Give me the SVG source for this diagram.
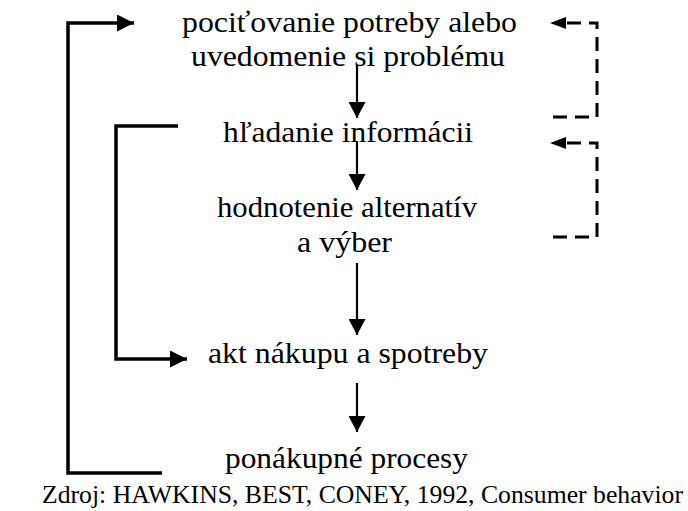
<svg xmlns="http://www.w3.org/2000/svg" width="688" height="511" viewBox="0 0 688 511">
<style>
text{font-family:"Liberation Serif","DejaVu Serif","Noto Serif",serif;fill:#000}
.t{font-size:30px;text-anchor:middle}
.cap{font-size:25.5px}
.solid{fill:none;stroke:#000;stroke-width:3.5}
.down{fill:none;stroke:#000;stroke-width:2.2}
.dash{fill:none;stroke:#000;stroke-width:3;stroke-dasharray:14 8}
</style>
<defs>
<marker id="ah" markerWidth="16" markerHeight="17" refX="16" refY="8.5" orient="auto" markerUnits="userSpaceOnUse">
<path d="M0,0 L16,8.5 L0,17 Z" fill="#000"/>
</marker>
<marker id="ahs" markerWidth="17" markerHeight="17" refX="17" refY="8.5" orient="auto" markerUnits="userSpaceOnUse">
<path d="M0,0 L17,8.5 L0,17 Z" fill="#000"/>
</marker>
</defs>
<g id="connectors">
<path class="solid" d="M162,473 H68 V23 H134" marker-end="url(#ahs)"/>
<path class="solid" d="M178,126 H116 V359 H187" marker-end="url(#ahs)"/>
<path class="down" d="M357,65 V118" marker-end="url(#ah)"/>
<path class="down" d="M357,141 V190" marker-end="url(#ah)"/>
<path class="down" d="M357,263 V335" marker-end="url(#ah)"/>
<path class="down" d="M357,383 V432" marker-end="url(#ah)"/>
<path class="dash" d="M553,117 H597 V23 H563"/>
<path d="M566,17 L550,23 L566,29 Z" fill="#000"/>
<path class="dash" d="M553,237 H597 V143 H563"/>
<path d="M566,137 L550,143 L566,149 Z" fill="#000"/>
</g>
<g id="n1" font-family="Liberation Serif, serif"><text class="t" x="349.5" y="32" textLength="335" lengthAdjust="spacingAndGlyphs">pociťovanie potreby alebo</text>
<text class="t" x="348" y="66" textLength="314" lengthAdjust="spacingAndGlyphs">uvedomenie si problému</text></g>
<g id="n2"><text class="t" x="348" y="142" textLength="250" lengthAdjust="spacingAndGlyphs">hľadanie informácii</text></g>
<g id="n3"><text class="t" x="347" y="217" textLength="260" lengthAdjust="spacingAndGlyphs">hodnotenie alternatív</text>
<text class="t" x="344.5" y="252" textLength="95" lengthAdjust="spacingAndGlyphs">a výber</text></g>
<g id="n4"><text class="t" x="348" y="363" textLength="280" lengthAdjust="spacingAndGlyphs">akt nákupu a spotreby</text></g>
<g id="n5"><text class="t" x="346.5" y="468" textLength="243" lengthAdjust="spacingAndGlyphs">ponákupné procesy</text></g>
<g id="caption"><text class="cap" x="42" y="503" textLength="641" lengthAdjust="spacingAndGlyphs">Zdroj: HAWKINS, BEST, CONEY, 1992, Consumer behavior</text></g>
</svg>
